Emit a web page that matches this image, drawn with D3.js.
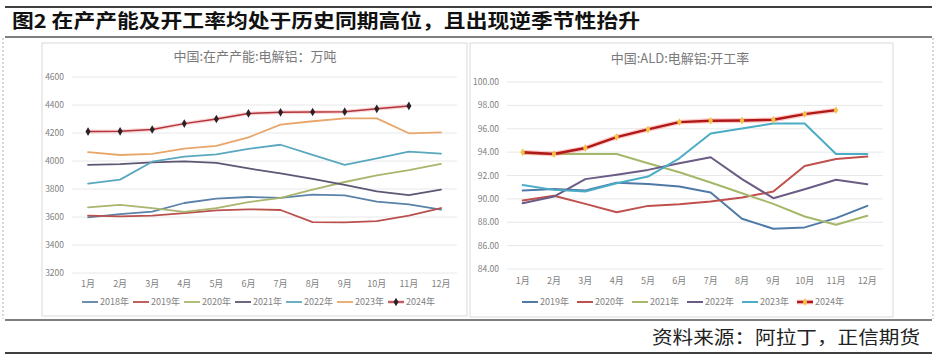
<!DOCTYPE html>
<html><head><meta charset="utf-8">
<script src="https://cdn.jsdelivr.net/npm/d3@7/dist/d3.min.js"></script>
<style>
html,body{margin:0;padding:0;background:#fff;}
svg{display:block;font-family:"Noto Sans CJK SC","Noto Sans",sans-serif;}
</style></head>
<body>
<svg id="c" width="939" height="358"></svg>
<script>
// ---------- data ----------
const months = ["1月","2月","3月","4月","5月","6月","7月","8月","9月","10月","11月","12月"];

// Left chart: 中国:在产产能:电解铝（万吨）
const capTicks = [3200,3400,3600,3800,4000,4200,4400,4600];
const capNames = ["2018年","2019年","2020年","2021年","2022年","2023年","2024年"];
const cap2018 = [3598,3621,3638,3700,3731,3743,3736,3760,3755,3710,3690,3652];
const cap2019 = [3610,3604,3610,3628,3647,3655,3650,3564,3562,3571,3610,3664];
const cap2020 = [3669,3686,3664,3636,3664,3707,3736,3795,3850,3897,3935,3980];
const cap2021 = [3973,3978,3990,3998,3986,3947,3911,3872,3830,3783,3757,3795];
const cap2022 = [3839,3867,3995,4031,4048,4087,4116,4043,3973,4019,4067,4053];
const cap2023 = [4063,4043,4051,4089,4108,4169,4260,4284,4304,4304,4198,4205];
const cap2024 = [4210,4212,4225,4267,4300,4340,4348,4350,4352,4373,4393];

// Right chart: 中国:ALD:电解铝:开工率
const rateTicks = [84,86,88,90,92,94,96,98,100];
const rateNames = ["2019年","2020年","2021年","2022年","2023年","2024年"];
const rate2019 = [90.71,90.85,90.71,91.39,91.28,91.05,90.54,88.30,87.44,87.56,88.35,89.40];
const rate2020 = [89.86,90.26,89.57,88.86,89.40,89.55,89.77,90.11,90.63,92.82,93.42,93.62];
const rate2021 = [93.90,93.84,93.84,93.84,93.05,92.28,91.40,90.48,89.57,88.49,87.78,88.55];
const rate2022 = [89.63,90.20,91.69,92.06,92.48,93.05,93.56,91.69,90.06,90.82,91.63,91.26];
const rate2023 = [91.19,90.77,90.63,91.33,91.91,93.47,95.60,96.03,96.45,96.45,93.84,93.84];
const rate2024 = [93.99,93.84,94.35,95.29,95.94,96.57,96.68,96.71,96.77,97.25,97.59];

// ---------- drawing ----------
const svg = d3.select("#c");
const gray = "#7f7f7f";

// page frame
svg.append("line").attr("x1",5).attr("x2",932).attr("y1",7).attr("y2",7).attr("stroke","#000").attr("stroke-width",1.6);
svg.append("line").attr("x1",5).attr("x2",932).attr("y1",37).attr("y2",37).attr("stroke","#000").attr("stroke-width",1.2);
svg.append("line").attr("x1",5).attr("x2",932).attr("y1",320).attr("y2",320).attr("stroke","#000").attr("stroke-width",1.2);
svg.append("line").attr("x1",5).attr("x2",932).attr("y1",353).attr("y2",353).attr("stroke","#000").attr("stroke-width",1.6);
[3,933].forEach(x=>svg.append("line").attr("x1",x).attr("x2",x).attr("y1",38).attr("y2",319)
  .attr("stroke","#b0b0b0").attr("stroke-dasharray","2,2").attr("stroke-width",1));

svg.append("text").attr("x",12).attr("y",28).attr("font-size",19).attr("font-weight",700)
  .attr("fill","#111").attr("textLength",628).attr("lengthAdjust","spacingAndGlyphs")
  .text("图2 在产产能及开工率均处于历史同期高位，且出现逆季节性抬升");
svg.append("text").attr("x",920).attr("y",344).attr("font-size",18).attr("text-anchor","end")
  .attr("fill","#222").attr("textLength",268).attr("lengthAdjust","spacingAndGlyphs")
  .text("资料来源：阿拉丁，正信期货");

function chart(o){
  const g = svg.append("g");
  g.append("rect").attr("x",o.box[0]).attr("y",o.box[1]).attr("width",o.box[2]).attr("height",o.box[3])
    .attr("fill","#fff").attr("stroke","#d9d9d9");
  g.append("text").attr("x",o.titleX).attr("y",o.titleY).attr("text-anchor","middle")
    .attr("font-size",13).attr("fill","#7a7a7a").text(o.title);
  const x = d3.scalePoint().domain(months).range(o.xr).padding(0.5);
  const y = d3.scaleLinear().domain(o.yd).range(o.yr);
  // grid
  g.selectAll(null).data(o.ticks).join("line")
    .attr("x1",o.xr[0]).attr("x2",o.xr[1]).attr("y1",d=>y(d)).attr("y2",d=>y(d))
    .attr("stroke","#e8e8e8").attr("stroke-width",1);
  // y labels
  g.selectAll(null).data(o.ticks).join("text")
    .attr("x",o.yLabelX).attr("y",d=>y(d)+3).attr("text-anchor","end")
    .attr("font-size",8.5).attr("fill",gray).text(o.fmt);
  // x labels
  g.selectAll(null).data(months).join("text")
    .attr("x",d=>x(d)).attr("y",o.xLabelY).attr("text-anchor","middle")
    .attr("font-size",9).attr("fill",gray).text(d=>d);
  const line = d3.line().x((d,i)=>x(months[i])).y(d=>y(d));
  o.series.forEach((s,k)=>{
    if(s.glow) g.append("path").attr("d",line(s.values)).attr("fill","none")
      .attr("stroke",s.glow).attr("stroke-width",s.width+2.5).attr("stroke-opacity",0.3).attr("stroke-linejoin","round");
    g.append("path").attr("d",line(s.values)).attr("fill","none")
      .attr("stroke",s.color).attr("stroke-width",s.width).attr("stroke-linejoin","round").attr("stroke-linecap","round");
    if(s.marker){
      g.selectAll(null).data(s.values).join("path")
        .attr("transform",(d,i)=>`translate(${x(months[i])},${y(d)})`)
        .attr("d",d3.symbol().type(d3.symbolDiamond).size(s.msize))
        .attr("fill",s.marker);
    }
    // legend
    const lx = o.legX + k*o.legStep, ly = o.legY;
    if(s.glow) g.append("line").attr("x1",lx).attr("x2",lx+16).attr("y1",ly).attr("y2",ly)
      .attr("stroke",s.glow).attr("stroke-width",s.width+2.5).attr("stroke-opacity",0.3);
    g.append("line").attr("x1",lx).attr("x2",lx+16).attr("y1",ly).attr("y2",ly)
      .attr("stroke",s.color).attr("stroke-width",s.width);
    if(s.marker) g.append("path").attr("transform",`translate(${lx+8},${ly})`)
      .attr("d",d3.symbol().type(d3.symbolDiamond).size(s.msize)).attr("fill",s.marker);
    g.append("text").attr("x",lx+18).attr("y",ly+3).attr("font-size",9).attr("fill",gray).text(s.name);
  });
}

chart({
  box:[42,43,425,273], title:"中国:在产产能:电解铝：万吨", titleX:255, titleY:61,
  xr:[72,457], yd:[3200,4600], yr:[273,77], ticks:capTicks, fmt:d=>d, yLabelX:64, xLabelY:287,
  legX:82, legY:302, legStep:51,
  series:[
    {name:capNames[0], values:cap2018, color:"#5b82a8", width:1.8},
    {name:capNames[1], values:cap2019, color:"#b9514d", width:1.8},
    {name:capNames[2], values:cap2020, color:"#aab56e", width:1.8},
    {name:capNames[3], values:cap2021, color:"#5e5674", width:1.8},
    {name:capNames[4], values:cap2022, color:"#5aa8bf", width:1.8},
    {name:capNames[5], values:cap2023, color:"#e8a66a", width:1.8},
    {name:capNames[6], values:cap2024, color:"#b2333a", width:1.5, glow:"#f08080", marker:"#2a2228", msize:22}
  ]
});

chart({
  box:[470,43,423,274], title:"中国:ALD:电解铝:开工率", titleX:680, titleY:63,
  xr:[507,883], yd:[84,100], yr:[269,82], ticks:rateTicks, fmt:d=>d3.format(".2f")(d), yLabelX:499, xLabelY:284,
  legX:522, legY:302, legStep:55,
  series:[
    {name:rateNames[0], values:rate2019, color:"#4f7aa8", width:2},
    {name:rateNames[1], values:rate2020, color:"#c0504d", width:2},
    {name:rateNames[2], values:rate2021, color:"#a5b86a", width:2},
    {name:rateNames[3], values:rate2022, color:"#6a5c84", width:2},
    {name:rateNames[4], values:rate2023, color:"#4bacc6", width:2},
    {name:rateNames[5], values:rate2024, color:"#b01818", width:2.4, glow:"#ff5050", marker:"#f5c542", msize:18}
  ]
});
</script>
</body></html>
